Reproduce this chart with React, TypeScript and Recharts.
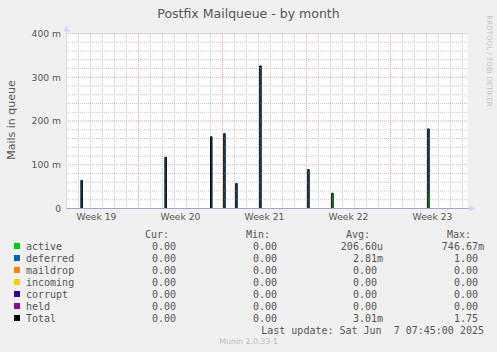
import React from 'react';
import {
  ComposedChart,
  Area,
  Line,
  XAxis,
  YAxis,
  CartesianGrid,
  ReferenceLine,
  ReferenceDot,
} from 'recharts';

// time in days since Tue 6 May 2025 00:00, values in mails
const spikeDays = [1.2, 8.2, 12.0, 13.1, 14.1, 16.1, 20.1, 22.1, 30.1];
const activeQueue = [0, 0, 0, 0, 0, 0, 0, 0.035, 0.035];
const deferredQueue = [0.064, 0.117, 0.164, 0.171, 0.057, 0.326, 0.089, 0, 0.147];

const weekLabels = ['Week 19', 'Week 20', 'Week 21', 'Week 22', 'Week 23'];
const weekMiddles = [2.5, 9.5, 16.5, 23.5, 30.5];
const weekStarts = [6, 13, 20, 27];
const dayLines = [
  1, 2, 3, 4, 5, 7, 8, 9, 10, 11, 12, 14, 15, 16, 17, 18, 19, 21, 22, 23, 24, 25, 26,
  28, 29, 30, 31, 32, 33,
];
const yMajor = [0.1, 0.2, 0.3, 0.4];
const yMinor = [
  0.02, 0.04, 0.06, 0.08, 0.12, 0.14, 0.16, 0.18, 0.22, 0.24, 0.26, 0.28, 0.32, 0.34, 0.36, 0.38,
];
const yTicks = [0, 0.1, 0.2, 0.3, 0.4];

const legendNames = ['active', 'deferred', 'maildrop', 'incoming', 'corrupt', 'held', 'Total'];
const legendColors = ['#00cc00', '#0066b3', '#ff8000', '#ffcc00', '#330099', '#990099', '#000000'];
const curVals = ['0.00', '0.00', '0.00', '0.00', '0.00', '0.00', '0.00'];
const minVals = ['0.00', '0.00', '0.00', '0.00', '0.00', '0.00', '0.00'];
const avgVals = ['206.60u', '2.81m', '0.00', '0.00', '0.00', '0.00', '3.01m'];
const maxVals = ['746.67m', '1.00', '0.00', '0.00', '0.00', '0.00', '1.75'];

const X_MAX = 401 / 12;
const SAMPLE = 3 / 24;

const rows: { t: number; active: number; deferred: number; total: number }[] = [
  { t: 0, active: 0, deferred: 0, total: 0 },
];
spikeDays.forEach((d, i) => {
  rows.push({ t: d, active: activeQueue[i], deferred: deferredQueue[i], total: activeQueue[i] + deferredQueue[i] });
  rows.push({ t: d + SAMPLE, active: 0, deferred: 0, total: 0 });
});
rows.push({ t: X_MAX, active: 0, deferred: 0, total: 0 });

const SANS = '"DejaVu Sans", sans-serif';
const MONO = '"DejaVu Sans Mono", monospace';
const FONT = '#555';
const MGRID = '#f2a0a0';
const GRID = '#c6c6c6';

const fmtY = (v: number) => {
  const m = Math.round(v * 1000);
  return m === 0 ? '0' : `${m} m`;
};

const withUnit = (v: string) => (/[a-z]$/i.test(v) ? v : v + ' ');

const ArrowUp = (props: any) => {
  const { cx, cy } = props;
  return (
    <g>
      <line x1={cx} y1={cy} x2={cx} y2={cy - 3} stroke="#cfd6f8" />
      <path d={`M${cx - 3},${cy - 2} L${cx + 3},${cy - 2} L${cx},${cy - 8} Z`} fill="#cfd6f8" />
    </g>
  );
};

const ArrowRight = (props: any) => {
  const { cx, cy } = props;
  return (
    <g>
      <line x1={cx} y1={cy} x2={cx + 3} y2={cy} stroke="#a8a4c8" />
      <path d={`M${cx + 2},${cy - 3} L${cx + 2},${cy + 3} L${cx + 8},${cy} Z`} fill="#cfd6f8" />
    </g>
  );
};

export default function App() {
  return (
    <div style={{ position: 'relative', width: 497, height: 352, background: '#f0f0f0', overflow: 'hidden' }}>
      <style>{'body{margin:0}'}</style>
      <ComposedChart
        width={497}
        height={352}
        data={rows}
        margin={{ top: 33.5, right: 29.5, bottom: 123.5, left: 0 }}
      >
        <CartesianGrid fill="#ffffff" fillOpacity={1} vertical={false} horizontal={false} />
        <XAxis
          dataKey="t"
          type="number"
          domain={[0, X_MAX]}
          ticks={weekMiddles}
          interval={0}
          tickFormatter={(v: number) => weekLabels[weekMiddles.indexOf(v)]}
          tick={{ fontSize: 9.2, fill: FONT, fontFamily: SANS }}
          tickLine={false}
          axisLine={false}
          tickSize={0}
          tickMargin={4.5}
          height={20}
          allowDataOverflow
        />
        <YAxis
          type="number"
          domain={[0, 0.4]}
          ticks={yTicks}
          interval={0}
          tickFormatter={fmtY}
          tick={{ fontSize: 9.2, fill: FONT, fontFamily: SANS }}
          tickLine={false}
          tickSize={0}
          tickMargin={5.5}
          axisLine={{ stroke: '#cfd6f8' }}
          width={66.5}
          allowDataOverflow
        />
        {dayLines.map((d) => (
          <ReferenceLine key={'d' + d} x={d} stroke={GRID} strokeDasharray="1 1" strokeDashoffset={0.5} />
        ))}
        {yMinor.map((y) => (
          <ReferenceLine key={'m' + y} y={y} stroke={GRID} strokeDasharray="1 1" strokeDashoffset={0.5} />
        ))}
        {weekStarts.map((w) => (
          <ReferenceLine key={'w' + w} x={w} stroke={MGRID} strokeDasharray="1 1" strokeDashoffset={0.5} />
        ))}
        {yMajor.map((y) => (
          <ReferenceLine key={'y' + y} y={y} stroke={MGRID} strokeDasharray="1 1" strokeDashoffset={0.5} />
        ))}
        <Area
          type="stepAfter"
          dataKey="active"
          stackId="q"
          fill="#00cc00"
          fillOpacity={1}
          stroke="none"
          dot={false}
          activeDot={false}
          isAnimationActive={false}
        />
        <Area
          type="stepAfter"
          dataKey="deferred"
          stackId="q"
          fill="#0066b3"
          fillOpacity={1}
          stroke="none"
          dot={false}
          activeDot={false}
          isAnimationActive={false}
        />
        <Line
          type="stepAfter"
          dataKey="total"
          stroke="#000000"
          strokeWidth={1}
          dot={false}
          activeDot={false}
          isAnimationActive={false}
        />
        <ReferenceLine y={0} stroke="#a8a4c8" />
        <ReferenceDot x={0} y={0.4} r={0} shape={ArrowUp} ifOverflow="visible" />
        <ReferenceDot x={X_MAX} y={0} r={0} shape={ArrowRight} ifOverflow="visible" />
      </ComposedChart>

      <svg
        width={497}
        height={352}
        style={{ position: 'absolute', left: 0, top: 0, pointerEvents: 'none' }}
      >
        <text x={248.5} y={17.5} textAnchor="middle" fontFamily={SANS} fontSize={12.5} fill={FONT}>
          Postfix Mailqueue - by month
        </text>
        <text
          transform="translate(15,120) rotate(-90)"
          textAnchor="middle"
          fontFamily={SANS}
          fontSize={11}
          fill={FONT}
        >
          Mails in queue
        </text>
        <text
          transform="translate(487,61) rotate(90)"
          textAnchor="middle"
          fontFamily={SANS}
          fontSize={7.1}
          fill="#c4c4c4"
        >
          RRDTOOL / TOBI OETIKER
        </text>

        <g fontFamily={MONO} fontSize={10} fill={FONT}>
          <text x={145} y={238}>Cur:</text>
          <text x={246} y={238}>Min:</text>
          <text x={346} y={238}>Avg:</text>
          <text x={447} y={238}>Max:</text>
          {legendNames.map((name, i) => {
            const y = 249.5 + i * 12;
            return (
              <g key={name}>
                <rect x={14} y={y - 6.5} width={6} height={6} fill={legendColors[i]} />
                <text x={26} y={y}>{name}</text>
                <text x={176} y={y} textAnchor="end">{curVals[i]}</text>
                <text x={277} y={y} textAnchor="end">{minVals[i]}</text>
                <text x={383} y={y} textAnchor="end" xmlSpace="preserve">{withUnit(avgVals[i])}</text>
                <text x={484} y={y} textAnchor="end" xmlSpace="preserve">{withUnit(maxVals[i])}</text>
              </g>
            );
          })}
          <text x={484} y={333.5} textAnchor="end" xmlSpace="preserve">
            {'Last update: Sat Jun  7 07:45:00 2025'}
          </text>
        </g>
        <text x={248.7} y={343.8} textAnchor="middle" fontFamily={SANS} fontSize={7.8} fill="#bbbbbb">
          Munin 2.0.33-1
        </text>
      </svg>
    </div>
  );
}
